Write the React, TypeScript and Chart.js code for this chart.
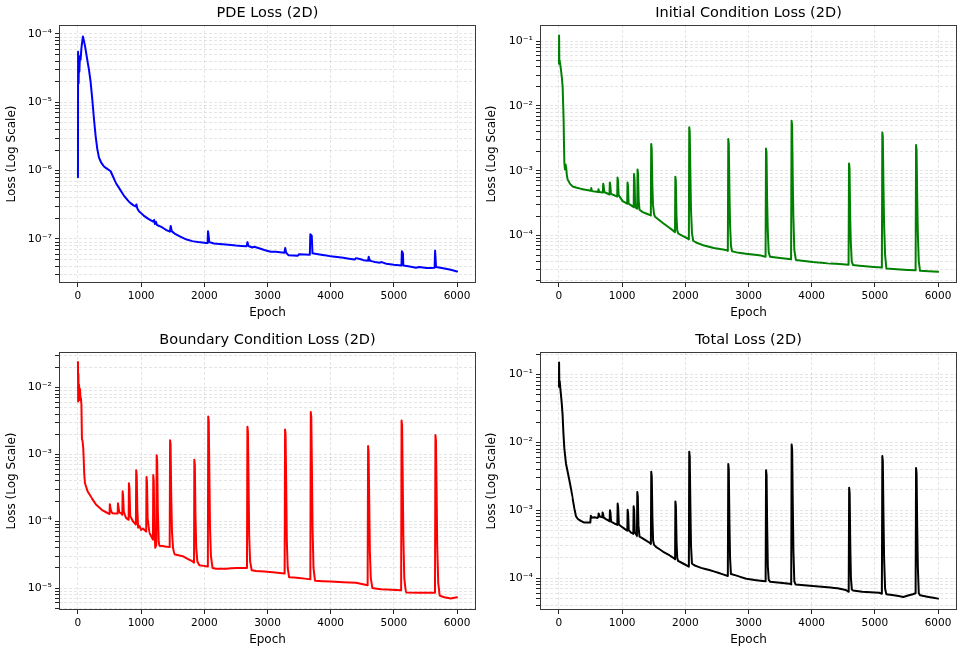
import React, { useEffect, useRef } from "react";
import { Chart, registerables } from "chart.js";

Chart.register(...registerables);

const FONT = "'DejaVu Sans', 'Liberation Sans', sans-serif";

// ---------- axis / text data ----------
const epochTicks = [0, 1000, 2000, 3000, 4000, 5000, 6000];
const epochRange: [number, number] = [-300, 6300];
const panelTitles = [
  "PDE Loss (2D)",
  "Initial Condition Loss (2D)",
  "Boundary Condition Loss (2D)",
  "Total Loss (2D)",
];
const xAxisLabel = "Epoch";
const yAxisLabel = "Loss (Log Scale)";
const lineColors = ["#0000ff", "#008000", "#ff0000", "#000000"];
const yLimits: [number, number][] = [
  [2.27e-8, 1.35e-4],
  [1.85e-5, 0.178],
  [4.7e-6, 0.034],
  [3.4e-5, 0.215],
];

// ---------- series data: [epoch, loss] ----------
const pdeLoss: [number, number][] = [
  [0, 8.0e-7], [2, 5.5e-5], [6, 2.2e-5], [10, 1.9e-5], [16, 4.2e-5], [22, 2.8e-5], [31, 4.7e-5], [42, 4.2e-5], [55, 6.2e-5], [79, 9.2e-5],
  [110, 6.8e-5], [140, 4.6e-5], [174, 3.0e-5], [200, 2.0e-5], [227, 1.1e-5], [255, 5.5e-6], [280, 3.2e-6], [305, 2.1e-6], [333, 1.55e-6],
  [370, 1.3e-6], [412, 1.15e-6], [470, 1.05e-6], [517, 9.8e-7], [560, 8.0e-7], [600, 6.6e-7], [650, 5.6e-7], [720, 4.4e-7], [807, 3.5e-7],
  [880, 3.1e-7], [910, 3.0e-7], [925, 3.2e-7], [940, 2.8e-7], [966, 2.55e-7], [1040, 2.2e-7], [1120, 1.95e-7], [1190, 1.8e-7], [1205, 1.9e-7],
  [1218, 1.65e-7], [1235, 1.78e-7], [1250, 1.6e-7], [1320, 1.5e-7], [1400, 1.35e-7], [1455, 1.28e-7], [1468, 1.55e-7], [1485, 1.3e-7],
  [1530, 1.2e-7], [1620, 1.08e-7], [1720, 9.8e-8], [1810, 9.3e-8], [1900, 9.0e-8], [2000, 8.8e-8], [2052, 8.7e-8], [2058, 1.3e-7],
  [2068, 1.12e-7], [2078, 9.0e-8], [2150, 8.6e-8], [2338, 8.3e-8], [2500, 8.0e-8], [2670, 7.8e-8], [2683, 9.0e-8], [2698, 7.9e-8],
  [2760, 7.5e-8], [2790, 7.7e-8], [2866, 7.3e-8], [2950, 6.9e-8], [3050, 6.5e-8], [3130, 6.5e-8], [3200, 6.4e-8], [3268, 6.3e-8],
  [3280, 7.4e-8], [3295, 6.3e-8], [3330, 5.8e-8], [3480, 5.7e-8], [3500, 6.0e-8], [3670, 5.9e-8], [3678, 1.17e-7], [3700, 1.12e-7],
  [3712, 6.2e-8], [3800, 6.0e-8], [3900, 5.8e-8], [4000, 5.6e-8], [4200, 5.3e-8], [4380, 5.0e-8], [4400, 5.25e-8], [4460, 5.1e-8],
  [4520, 4.9e-8], [4592, 4.8e-8], [4602, 5.5e-8], [4622, 4.8e-8], [4700, 4.6e-8], [4780, 4.5e-8], [4800, 4.6e-8], [4880, 4.35e-8],
  [5000, 4.2e-8], [5120, 4.1e-8], [5127, 6.6e-8], [5143, 6.2e-8], [5150, 4.1e-8], [5250, 3.95e-8], [5350, 3.8e-8], [5400, 3.9e-8],
  [5520, 3.75e-8], [5645, 3.8e-8], [5652, 6.8e-8], [5668, 3.9e-8], [5800, 3.7e-8], [5900, 3.55e-8], [6000, 3.35e-8],
];

const icLoss: [number, number][] = [
  [0, 4.5e-2], [2, 0.123], [6, 4.8e-2], [12, 5.0e-2], [20, 4.4e-2], [32, 3.6e-2], [45, 2.8e-2], [58, 2.0e-2], [66, 1.1e-2], [74, 6.0e-3],
  [80, 2.5e-3], [86, 1.3e-3], [95, 1.05e-3], [105, 1.25e-3], [115, 1.1e-3], [125, 8.5e-4], [137, 7.4e-4], [170, 6.4e-4], [216, 5.7e-4],
  [300, 5.4e-4], [375, 5.2e-4], [505, 4.9e-4], [512, 5.4e-4], [522, 4.85e-4], [618, 4.7e-4], [626, 5.2e-4], [636, 4.7e-4],
  [695, 4.6e-4], [700, 6.3e-4], [708, 5.8e-4], [716, 4.7e-4],
  [800, 4.3e-4], [805, 6.6e-4], [813, 6.0e-4], [822, 4.4e-4],
  [922, 4.0e-4], [927, 7.9e-4], [935, 7.0e-4], [944, 4.2e-4],
  [1008, 3.4e-4],
  [1080, 3.1e-4], [1085, 6.6e-4], [1093, 5.8e-4], [1102, 3.1e-4],
  [1183, 2.75e-4], [1188, 8.9e-4], [1196, 7.5e-4], [1205, 3.2e-4], [1215, 2.7e-4],
  [1239, 2.6e-4], [1244, 1.05e-3], [1252, 9.0e-4], [1262, 3.5e-4], [1275, 2.5e-4],
  [1325, 2.3e-4],
  [1454, 2.05e-4], [1460, 2.6e-3], [1468, 2.2e-3], [1478, 6.0e-4], [1488, 3.0e-4], [1505, 2.15e-4],
  [1520, 1.95e-4], [1650, 1.55e-4], [1747, 1.32e-4],
  [1837, 1.13e-4], [1842, 8.1e-4], [1850, 7.0e-4], [1860, 2.0e-4], [1872, 1.2e-4], [1890, 1.07e-4],
  [2037, 9.0e-5],
  [2056, 8.7e-5], [2062, 4.7e-3], [2070, 4.0e-3], [2080, 9.0e-4], [2090, 2.5e-4], [2105, 1.1e-4], [2125, 8.3e-5],
  [2169, 7.8e-5], [2300, 7.0e-5], [2450, 6.4e-5], [2644, 6.0e-5],
  [2673, 5.8e-5], [2680, 3.1e-3], [2688, 2.6e-3], [2698, 5.0e-4], [2708, 1.5e-4], [2722, 7.0e-5], [2740, 5.7e-5],
  [2850, 5.4e-5], [3066, 5.1e-5], [3200, 4.9e-5],
  [3270, 4.7e-5], [3277, 2.2e-3], [3285, 1.9e-3], [3295, 3.5e-4], [3305, 1.2e-4], [3320, 5.5e-5], [3340, 4.7e-5],
  [3500, 4.5e-5],
  [3674, 4.3e-5], [3682, 5.9e-3], [3690, 5.0e-3], [3700, 8.0e-4], [3710, 2.0e-4], [3725, 6.0e-5], [3750, 4.2e-5],
  [4017, 3.9e-5], [4300, 3.7e-5],
  [4584, 3.55e-5], [4591, 1.3e-3], [4599, 1.1e-3], [4609, 2.0e-4], [4619, 8.0e-5], [4634, 4.0e-5], [4655, 3.5e-5],
  [4850, 3.35e-5],
  [5111, 3.2e-5], [5118, 3.9e-3], [5126, 3.3e-3], [5136, 6.0e-4], [5146, 1.5e-4], [5162, 5.0e-5], [5182, 3.1e-5],
  [5400, 3.0e-5],
  [5645, 2.9e-5], [5652, 2.5e-3], [5660, 2.1e-3], [5670, 4.0e-4], [5680, 1.1e-4], [5695, 4.0e-5], [5715, 2.85e-5],
  [5850, 2.8e-5], [6000, 2.75e-5],
];

const bcLoss: [number, number][] = [
  [0, 0.024], [3, 6.2e-3], [7, 1.6e-2], [12, 7.0e-3], [18, 1.1e-2], [25, 6.5e-3], [32, 9.5e-3], [40, 7.0e-3], [47, 6.9e-3], [55, 5.5e-3],
  [63, 1.7e-3], [72, 1.6e-3], [84, 1.24e-3], [100, 5.0e-4], [111, 3.7e-4], [153, 2.8e-4], [220, 2.2e-4], [285, 1.78e-4], [390, 1.45e-4],
  [500, 1.28e-4], [505, 1.8e-4], [513, 1.6e-4], [525, 1.4e-4], [545, 1.32e-4], [575, 1.3e-4],
  [628, 1.3e-4], [633, 1.85e-4], [641, 1.65e-4], [655, 1.35e-4], [680, 1.32e-4],
  [702, 1.25e-4], [707, 2.8e-4], [715, 2.4e-4], [725, 1.4e-4], [760, 1.12e-4],
  [802, 1.05e-4], [807, 3.7e-4], [815, 3.1e-4], [827, 1.2e-4], [870, 1.0e-4],
  [917, 8.9e-5], [922, 5.8e-4], [930, 4.8e-4], [940, 1.5e-4], [952, 8.0e-5], [975, 8.5e-5], [998, 7.4e-5], [1030, 7.8e-5],
  [1080, 7.0e-5], [1085, 4.6e-4], [1093, 3.8e-4], [1103, 1.1e-4], [1130, 6.7e-5], [1150, 6.2e-5],
  [1187, 5.3e-5], [1192, 4.9e-4], [1200, 4.0e-4], [1210, 7.0e-5], [1224, 4.0e-5],
  [1240, 4.5e-5], [1246, 9.7e-4], [1254, 8.0e-4], [1264, 1.5e-4], [1278, 5.0e-5], [1290, 4.3e-5],
  [1380, 4.2e-5],
  [1452, 4.1e-5], [1458, 1.63e-3], [1466, 1.4e-3], [1476, 2.5e-4], [1488, 7.0e-5], [1505, 4.0e-5], [1525, 3.2e-5],
  [1657, 3.0e-5], [1815, 2.5e-5],
  [1837, 2.4e-5], [1842, 8.3e-4], [1850, 7.0e-4], [1860, 1.2e-4], [1872, 4.0e-5], [1890, 2.5e-5],
  [1921, 2.2e-5],
  [2056, 2.1e-5], [2062, 3.7e-3], [2070, 3.1e-3], [2080, 5.0e-4], [2090, 8.0e-5], [2105, 3.0e-5], [2130, 2.0e-5],
  [2184, 1.95e-5], [2350, 1.95e-5], [2501, 2.0e-5],
  [2675, 2.0e-5], [2682, 2.6e-3], [2690, 2.2e-3], [2700, 4.0e-4], [2710, 6.0e-5], [2725, 2.5e-5], [2750, 1.85e-5],
  [2818, 1.8e-5], [3081, 1.73e-5],
  [3271, 1.65e-5], [3278, 2.35e-3], [3286, 2.0e-3], [3296, 3.5e-4], [3306, 5.0e-5], [3320, 2.0e-5], [3342, 1.45e-5],
  [3500, 1.42e-5],
  [3678, 1.35e-5], [3685, 4.3e-3], [3693, 3.6e-3], [3703, 6.0e-4], [3713, 8.0e-5], [3728, 2.0e-5], [3752, 1.29e-5],
  [4000, 1.25e-5], [4400, 1.2e-5],
  [4585, 1.1e-5], [4592, 1.33e-3], [4600, 1.1e-3], [4610, 2.0e-4], [4620, 3.5e-5], [4635, 1.4e-5], [4660, 1.0e-5],
  [4800, 9.6e-6],
  [5115, 9.3e-6], [5122, 3.2e-3], [5130, 2.7e-3], [5140, 4.5e-4], [5150, 6.0e-5], [5165, 1.4e-5], [5190, 8.6e-6],
  [5400, 8.5e-6],
  [5651, 8.5e-6], [5658, 1.95e-3], [5666, 1.6e-3], [5676, 3.0e-4], [5686, 4.5e-5], [5702, 1.2e-5], [5725, 7.7e-6],
  [5800, 7.3e-6], [5900, 7.0e-6], [6000, 7.3e-6],
];

const totalLoss: [number, number][] = [
  [0, 0.066], [2, 0.15], [6, 0.07], [12, 0.08], [20, 0.065], [32, 0.05], [45, 0.037], [58, 0.025], [70, 0.014], [85, 8.2e-3],
  [111, 4.9e-3], [140, 3.6e-3], [164, 2.8e-3], [190, 2.1e-3], [216, 1.5e-3], [245, 1.05e-3], [269, 8.2e-4], [295, 7.5e-4], [322, 7.2e-4],
  [401, 6.6e-4], [496, 6.6e-4], [505, 8.3e-4], [515, 7.8e-4], [560, 7.9e-4], [610, 7.7e-4],
  [623, 8.0e-4], [628, 9.0e-4], [636, 8.6e-4], [645, 8.1e-4],
  [686, 7.9e-4], [691, 9.3e-4], [699, 8.8e-4], [708, 7.8e-4], [744, 7.4e-4],
  [802, 6.9e-4], [807, 1.0e-3], [815, 9.2e-4], [825, 6.8e-4], [876, 6.4e-4],
  [924, 6.1e-4], [929, 1.26e-3], [937, 1.1e-3], [948, 6.2e-4], [1008, 5.6e-4],
  [1082, 5.0e-4], [1087, 1.02e-3], [1095, 9.0e-4], [1105, 5.1e-4], [1140, 4.7e-4],
  [1177, 4.5e-4], [1182, 1.15e-3], [1190, 1.0e-3], [1200, 4.8e-4],
  [1234, 4.2e-4], [1240, 1.86e-3], [1248, 1.6e-3], [1258, 6.0e-4], [1275, 4.1e-4], [1298, 4.0e-4], [1440, 3.3e-4],
  [1455, 3.2e-4], [1461, 3.7e-3], [1469, 3.1e-3], [1479, 8.0e-4], [1490, 3.6e-4], [1505, 3.1e-4],
  [1535, 2.9e-4], [1650, 2.45e-4], [1747, 2.18e-4], [1826, 1.95e-4],
  [1838, 1.9e-4], [1843, 1.35e-3], [1851, 1.15e-3], [1861, 3.5e-4], [1872, 2.0e-4], [1885, 1.8e-4],
  [1957, 1.66e-4],
  [2056, 1.48e-4], [2062, 7.3e-3], [2070, 6.2e-3], [2080, 1.2e-3], [2090, 3.0e-4], [2105, 1.65e-4], [2142, 1.55e-4],
  [2250, 1.42e-4], [2380, 1.32e-4], [2520, 1.2e-4],
  [2673, 1.08e-4], [2680, 4.8e-3], [2688, 4.0e-3], [2698, 7.0e-4], [2708, 2.0e-4], [2722, 1.15e-4],
  [2800, 1.1e-4], [2965, 9.8e-5], [3100, 9.4e-5],
  [3271, 9.0e-5], [3278, 3.9e-3], [3286, 3.3e-3], [3296, 5.5e-4], [3306, 1.5e-4], [3320, 9.5e-5], [3340, 8.9e-5],
  [3500, 8.6e-5], [3650, 8.3e-5],
  [3676, 8.1e-5], [3683, 9.3e-3], [3691, 7.8e-3], [3701, 1.2e-3], [3711, 2.5e-4], [3725, 9.0e-5], [3745, 8.1e-5],
  [4017, 7.7e-5], [4300, 7.3e-5], [4410, 7.1e-5], [4540, 6.7e-5],
  [4586, 6.3e-5], [4593, 2.15e-3], [4601, 1.8e-3], [4611, 3.0e-4], [4621, 1.0e-4], [4636, 6.8e-5], [4655, 6.6e-5],
  [4800, 6.3e-5], [5070, 6.1e-5],
  [5111, 5.9e-5], [5118, 6.3e-3], [5126, 5.3e-3], [5136, 9.0e-4], [5146, 2.0e-4], [5162, 7.0e-5], [5182, 5.8e-5],
  [5300, 5.6e-5], [5450, 5.3e-5], [5600, 5.8e-5],
  [5645, 6.0e-5], [5652, 4.2e-3], [5660, 3.5e-3], [5670, 6.0e-4], [5680, 1.5e-4], [5695, 6.0e-5], [5715, 5.6e-5],
  [5850, 5.3e-5], [6000, 5.0e-5],
];

const seriesData = [pdeLoss, icLoss, bcLoss, totalLoss];

// ---------- layout of the 2x2 grid (pixels) ----------
const panelBoxes = [
  { x: 0, y: 0, w: 482, h: 326, yAxisW: 59, padRight: 6 },
  { x: 480, y: 0, w: 484, h: 326, yAxisW: 60, padRight: 7 },
  { x: 0, y: 327, w: 482, h: 326, yAxisW: 59, padRight: 6 },
  { x: 480, y: 327, w: 484, h: 326, yAxisW: 60, padRight: 7 },
];

const SUP: Record<string, string> = {
  "-": "\u207B", "0": "\u2070", "1": "\u00B9", "2": "\u00B2", "3": "\u00B3", "4": "\u2074",
  "5": "\u2075", "6": "\u2076", "7": "\u2077", "8": "\u2078", "9": "\u2079",
};
function powerLabel(v: number): string {
  const e = Math.round(Math.log10(v));
  return "10" + String(e).split("").map((c) => SUP[c] || c).join("");
}
function logTicks(min: number, max: number) {
  const out: { value: number; major: boolean }[] = [];
  for (let e = Math.floor(Math.log10(min)); e <= Math.ceil(Math.log10(max)); e++) {
    for (let m = 1; m <= 9; m++) {
      const v = m * Math.pow(10, e);
      if (v >= min && v <= max) out.push({ value: v, major: m === 1 });
    }
  }
  return out;
}

const GRID_COLOR = "rgba(170,170,170,0.38)";
const GRID_DASH = [3, 2];

const framePlugin = {
  id: "axesFrame",
  afterDraw(chart: any) {
    const { ctx, chartArea: a } = chart;
    ctx.save();
    ctx.strokeStyle = "#3a3a3a";
    ctx.lineWidth = 1;
    const l = Math.round(a.left) + 0.5;
    const t = Math.round(a.top) + 0.5;
    const r = Math.round(a.right) - 0.5;
    const b = Math.round(a.bottom) - 0.5;
    ctx.strokeRect(l, t, r - l, b - t);
    ctx.restore();
  },
};

function Panel({ index }: { index: number }) {
  const ref = useRef<HTMLCanvasElement | null>(null);
  const box = panelBoxes[index];
  useEffect(() => {
    if (!ref.current) return;
    const [yMin, yMax] = yLimits[index];
    const pts = seriesData[index].map(([x, y]) => ({ x, y }));
    const chart = new Chart(ref.current, {
      type: "line",
      data: {
        datasets: [
          {
            data: pts,
            borderColor: lineColors[index],
            backgroundColor: lineColors[index],
            borderWidth: 2,
            pointRadius: 0,
            // tiny tension keeps segments straight but avoids Chart.js's
            // per-pixel "fast path" that collapses narrow spikes
            tension: 0.000001,
            fill: false,
            borderJoinStyle: "round",
            borderCapStyle: "round",
          } as any,
        ],
      },
      options: {
        animation: false,
        responsive: false,
        devicePixelRatio: 1,
        events: [],
        layout: { padding: { left: 0, right: box.padRight, top: 0, bottom: 0 } },
        plugins: {
          legend: { display: false },
          tooltip: { enabled: false },
          title: {
            display: true,
            text: panelTitles[index],
            fullSize: false,
            color: "#000",
            font: { family: FONT, size: 14.5, weight: "normal", lineHeight: "16px" } as any,
            padding: { top: 5, bottom: 4 },
          },
        },
        scales: {
          x: {
            type: "linear",
            min: epochRange[0],
            max: epochRange[1],
            afterBuildTicks: (s: any) => {
              s.ticks = epochTicks.map((v) => ({ value: v }));
            },
            afterFit: (s: any) => {
              s.height = 43;
            },
            ticks: {
              autoSkip: false,
              maxRotation: 0,
              padding: 3,
              color: "#000",
              font: { family: FONT, size: 10.5 },
              callback: (v: any) => String(v),
            },
            grid: {
              color: GRID_COLOR,
              lineWidth: 0.8,
              tickLength: 4,
              tickColor: "#222",
              tickWidth: 1,
            },
            border: { display: false, dash: GRID_DASH },
            title: {
              display: true,
              text: xAxisLabel,
              color: "#000",
              font: { family: FONT, size: 12, lineHeight: "14px" } as any,
              padding: { top: 0, bottom: 6 },
            },
          },
          y: {
            type: "logarithmic",
            min: yMin,
            max: yMax,
            afterBuildTicks: (s: any) => {
              s.ticks = logTicks(yMin, yMax);
            },
            afterFit: (s: any) => {
              s.width = box.yAxisW;
            },
            ticks: {
              autoSkip: false,
              padding: 3,
              color: "#000",
              font: { family: FONT, size: 11 },
              callback: (v: any, i: number, ticks: any[]) =>
                ticks[i] && ticks[i].major ? powerLabel(Number(v)) : "",
            },
            grid: {
              color: GRID_COLOR,
              lineWidth: 0.8,
              tickLength: 4,
              tickColor: "#222",
              tickWidth: 1,
            },
            border: { display: false, dash: GRID_DASH },
            title: {
              display: true,
              text: yAxisLabel,
              color: "#000",
              font: { family: FONT, size: 12, lineHeight: "14px" } as any,
              padding: { top: 5, bottom: 0 },
            },
          },
        },
      } as any,
      plugins: [framePlugin],
    });
    return () => chart.destroy();
  }, [index]);
  return (
    <canvas
      ref={ref}
      width={box.w}
      height={box.h}
      style={{ position: "absolute", left: box.x, top: box.y, width: box.w, height: box.h, display: "block" }}
    />
  );
}

export default function App() {
  return (
    <div
      style={{
        position: "fixed",
        left: 0,
        top: 0,
        width: 964,
        height: 653,
        background: "#ffffff",
        overflow: "hidden",
      }}
    >
      {[0, 1, 2, 3].map((i) => (
        <Panel key={i} index={i} />
      ))}
    </div>
  );
}
